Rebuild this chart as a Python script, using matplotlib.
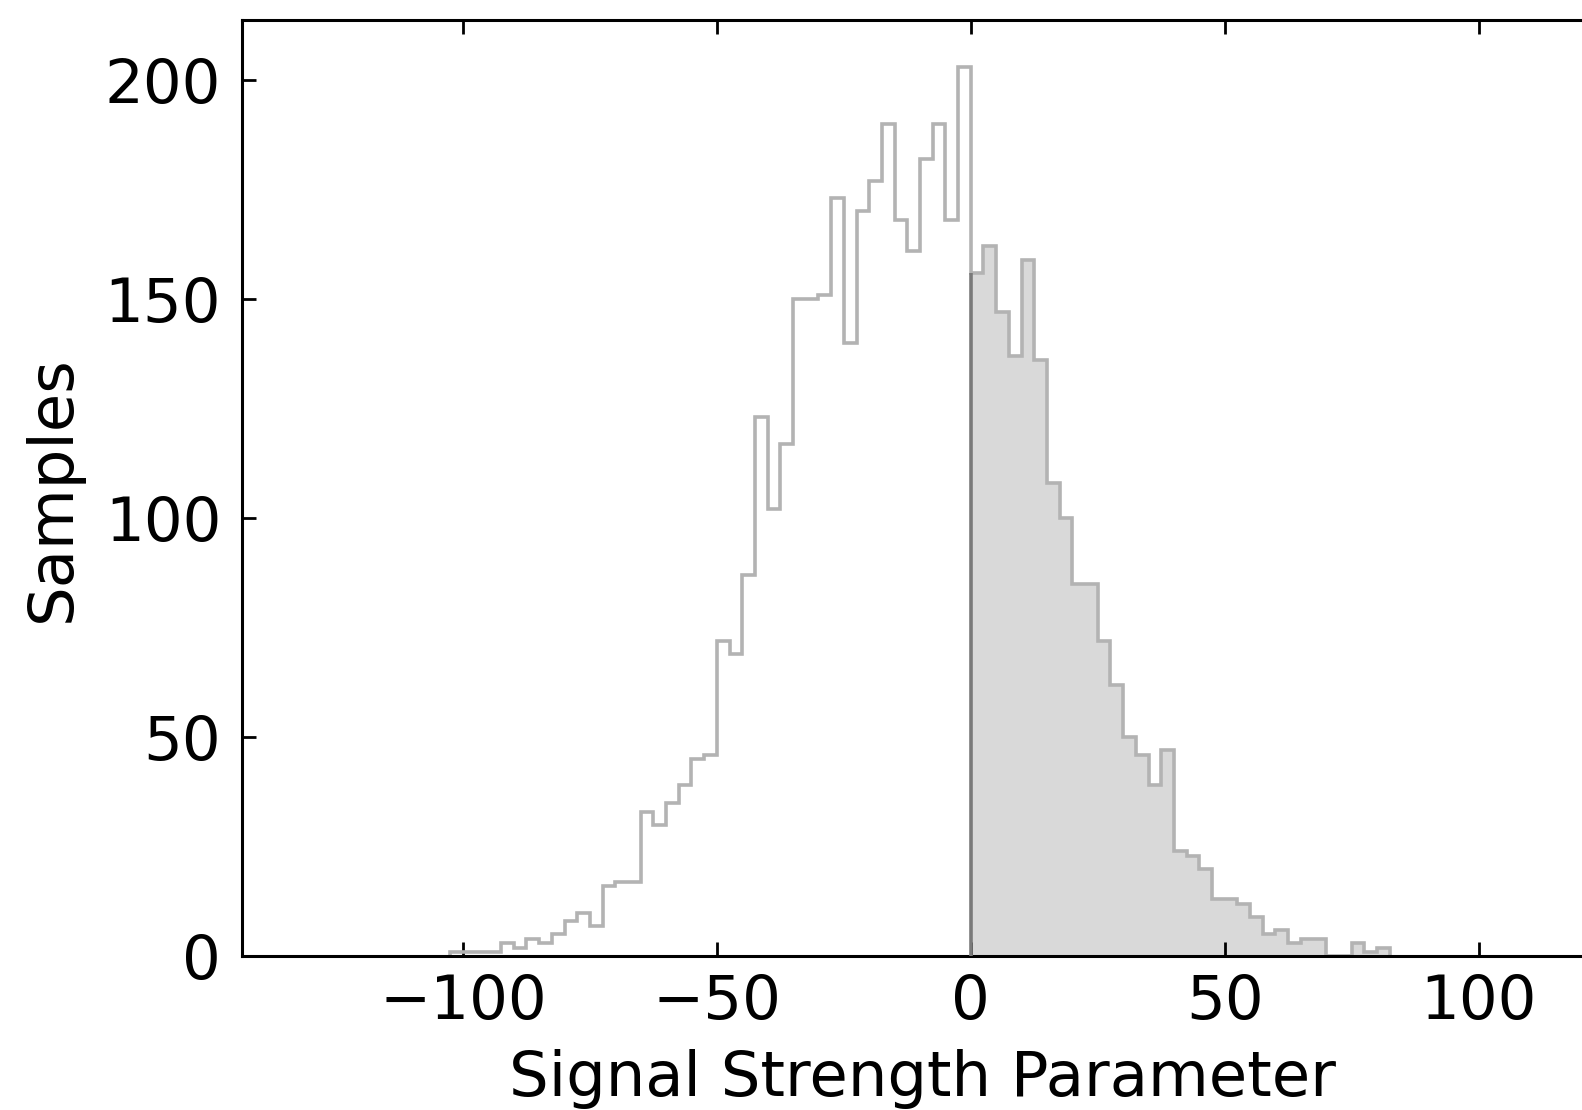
import matplotlib
matplotlib.use('Agg')
import matplotlib.pyplot as plt
import numpy as np

# histogram of the signal strength parameter, bins of 2.5
bin_edges = np.arange(-102.5, 82.5 + 0.1, 2.5)
counts = [1, 1, 1, 1, 3, 2, 4, 3, 5, 8,
          10, 7, 16, 17, 17, 33, 30, 35, 39, 45,
          46, 72, 69, 87, 123, 102, 117, 150, 150, 151,
          173, 140, 170, 177, 190, 168, 161, 182, 190, 168,
          203,
          156, 162, 147, 137, 159, 136, 108, 100, 85, 85,
          72, 62, 50, 46, 39, 47, 24, 23, 20, 13,
          13, 12, 9, 5, 6, 3, 4, 4, 0, 0,
          3, 1, 2]
y_ticks = [0, 50, 100, 150, 200]
x_ticks = [-100, -50, 0, 50, 100]

counts = np.array(counts)
i0 = np.searchsorted(bin_edges, 0)  # first bin at/after zero

fig = plt.figure(figsize=(15.82, 11.10), dpi=100)
ax = fig.add_axes([0.1530, 0.1384, 0.8603, 0.8434])

# shaded part for positive values
ax.stairs(counts[i0:], bin_edges[i0:], fill=True, color='#d9d9d9', zorder=1)
ax.stairs(counts, bin_edges, color='#b3b3b3', lw=2.6, zorder=2)
ax.vlines(bin_edges[i0], 0, counts[i0], color='#7a7a7a', lw=2.6, zorder=3)

ax.set_xlim(-143.5, 124.5)
ax.set_ylim(0, 213.6)
ax.set_xticks(x_ticks)
ax.set_yticks(y_ticks)
ax.tick_params(direction='in', top=True, right=True, length=10, width=2,
               labelsize=44, pad=12)
ax.tick_params(axis='y', pad=15)
for s in ax.spines.values():
    s.set_linewidth(2.2)

ax.set_xlabel('Signal Strength Parameter', fontsize=45, labelpad=12)
ax.set_ylabel('Samples', fontsize=45, labelpad=16)

fig.savefig('out.png', dpi=100)
